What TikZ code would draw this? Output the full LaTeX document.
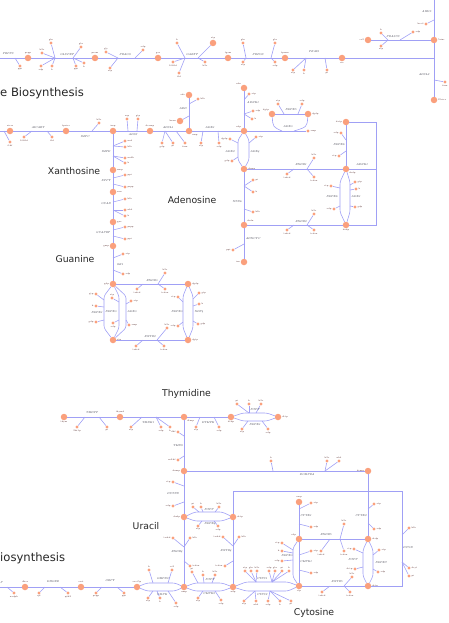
\documentclass[tikz,border=0pt]{standalone}
\usepackage{fontspec}
\newfontfamily\sectfont{DejaVu Sans}
\definecolor{eblue}{RGB}{160,160,245}
\definecolor{salm}{RGB}{250,160,125}
\definecolor{mtxt}{RGB}{90,50,50}
\definecolor{rtxt}{RGB}{40,40,55}
\tikzset{
 edge/.style={draw=eblue, line width=0.9pt},
 br/.style={draw=eblue, line width=0.6pt},
 bendline/.style={draw=eblue, line width=0.6pt, rounded corners=2.5pt},
 big/.style={circle, fill=salm, minimum size=6.5pt, inner sep=0pt},
 sml/.style={circle, fill=salm, minimum size=3.4pt, inner sep=0pt},
 mlab/.style={font=\fontsize{2.2}{2.4}\selectfont, text=mtxt, inner sep=0.4pt},
 rlab/.style={font=\fontsize{2.8}{3}\selectfont\itshape, text=rtxt, inner sep=0pt},
 sect/.style={font=\sectfont\fontsize{9.3}{11}\selectfont, text=black!85, anchor=base, inner sep=0pt},
 bigsect/.style={font=\sectfont\fontsize{11.6}{13}\selectfont, text=black!85, anchor=base west, inner sep=0pt},
}
\newcommand\Met[4]{\node[big,label={[mlab]#4:#3}] (#1) at (#2) {};}
\newcommand\Sm[5]{\node[sml,label={[mlab]#5:#4}] (#1) at (#2) {}; \draw[br] (#1) -- (#3);}
\newcommand\Rx[3]{\node[rlab] (#1) at (#2) {#3};}
\begin{document}
\begin{tikzpicture}[x=1pt,y=-1pt]
\useasboundingbox (0,0) rectangle (449,623);
\clip (0,0) rectangle (449,623);
% ================= TOP ROW =================
\coordinate (L0) at (0,58);
\coordinate (T58) at (434,58);
\coordinate (T0) at (434,0);
\Met{m1}{28,58}{prpp}{above}
\Met{m2}{95,58}{pram}{above}
\Met{m3}{158,58}{gar}{above}
\Met{m4}{228,58}{fgam}{above}
\Met{m5}{285,58}{fpram}{above}
\Met{m6}{342,58}{air}{below}
\Met{m7}{434,40}{5aizc}{right}
\Met{m8}{368,40}{co2}{left}
\Met{m9}{434,100}{25aics}{right}
\Met{m10}{213,43}{atp}{above}
\draw[edge] (L0) -- (m1);
\draw[edge] (m1) -- (m2);
\draw[edge] (m2) -- (m3);
\draw[edge] (m3) -- (m4);
\draw[edge] (m4) -- (m5);
\draw[edge] (m5) -- (m6);
\draw[edge] (m6) -- (T58);
\draw[edge] (T0) -- (m7);
\draw[edge] (m7) -- (m9);
\draw[edge] (m8) -- (m7);
\coordinate (j1) at (15,58);
\coordinate (j2a) at (55,58); \coordinate (j2b) at (73,58);
\coordinate (j3a) at (118,58); \coordinate (j3b) at (135,58);
\coordinate (j4a) at (185,58); \coordinate (j4b) at (198,58);
\coordinate (j5a) at (246,58); \coordinate (j5b) at (271,58);
\coordinate (j6a) at (306,58); \coordinate (j6b) at (325,58);
\coordinate (j7) at (434,20); \coordinate (j8) at (434,80);
\coordinate (j9a) at (388,40); \coordinate (j9b) at (400,40);
\Sm{s1}{20,66}{j1}{ppi}{below}
\Sm{s2}{51,43}{j2a}{gln}{above}
\Sm{s3}{42,53}{j2a}{h2o}{above}
\Sm{s4}{41,66}{j2a}{adp}{below}
\Sm{s5}{52,66}{j2a}{h}{below}
\Sm{s6}{81,47}{j2b}{glu}{above}
\Sm{s7}{76,66}{j2b}{ppi}{below}
\Sm{s8}{84,63}{j2b}{h}{below}
\Sm{s9}{106,52}{j3a}{gly}{above}
\Sm{s10}{110,68}{j3a}{atp}{below}
\Sm{s11}{143,50}{j3b}{adp}{above}
\Sm{s12}{177,43}{j4a}{h}{above}
\Sm{s13}{173,62}{j4a}{10fthf}{below}
\Sm{s14}{179,73}{j4a}{thf}{below}
\draw[br] (m10) -- (j4b);
\Sm{s15}{205,62}{j4b}{h2o}{below}
\Sm{s16}{243,43}{j5a}{gln}{above}
\Sm{s17}{243,62}{j5a}{atp}{below}
\Sm{s18}{275,43}{j5b}{glu}{above}
\Sm{s19}{275,62}{j5b}{adp}{below}
\Sm{s20}{293,70}{j6a}{atp}{below}
\Sm{s21}{304,70}{j6a}{h}{below}
\Sm{s22}{327,70}{j6b}{pi}{below}
\Sm{s23}{426,24}{j7}{hco3}{left}
\Sm{s24}{445,82}{j8}{fum}{below}
\Sm{s25}{381,33}{j9a}{h}{above}
\Sm{s26}{381,46}{j9a}{atp}{below}
\Sm{s27}{413,32}{j9b}{adp}{right}
\Rx{r1}{8,54}{PRPPS}
\Rx{r2}{67,55}{GLUPRT}
\Rx{r3}{125,55}{PRAGS}
\Rx{r4}{192,55}{GARFT}
\Rx{r5}{258,55}{PRFGS}
\Rx{r6}{314,52}{PRAIS}
\Rx{r7}{427,12}{AIRCr}
\Rx{r8}{424,75}{ADSL2}
\Rx{r9}{393,37}{PRASCS}
\node[bigsect] (tpur) at (0,96.5) {e Biosynthesis};
% ================= MIDDLE ROW =================
\coordinate (L1) at (0,131);
\Met{n1}{10,131}{aicar}{above}
\Met{n2}{66,131}{fprica}{above}
\Met{n3}{113,131}{imp}{above}
\Met{n4}{150,131}{dcamp}{above}
\Met{n5}{189,131}{amp}{below right}
\Met{n6}{244,131}{adp}{above left}
\node[sml,label={[mlab]right:amp}] (s40) at (308,131) {};
\draw[edge] (L1) -- (n1);
\draw[edge] (n1) -- (n2);
\draw[edge] (n2) -- (n3);
\draw[edge] (n3) -- (n4);
\draw[edge] (n4) -- (n5);
\draw[edge] (n5) -- (n6);
\draw[edge] (n6) -- (s40);
\coordinate (j10o) at (4,131);
\coordinate (j10a) at (32,131); \coordinate (j10b) at (47,131);
\coordinate (j11) at (92,131);
\coordinate (j12a) at (128,131); \coordinate (j12b) at (137,131);
\coordinate (j13a) at (165,131); \coordinate (j13b) at (176,131);
\coordinate (j14a) at (203,131); \coordinate (j14b) at (218,131);
\Sm{s30}{10,142}{j10o}{fthf}{below}
\Sm{s31}{24,137}{j10a}{10fthf}{below}
\Sm{s32}{52,137}{j10b}{thf}{below}
\Sm{s33}{99,123}{j11}{h2o}{above}
\Sm{s34}{127,119}{j12a}{asp}{above}
\Sm{s35}{138,119}{j12b}{gtp}{above}
\Sm{s36}{162,143}{j13a}{gdp}{below}
\Sm{s37}{173,143}{j13a}{pi}{below}
\Sm{s38}{185,143}{j13b}{fum}{below}
\Sm{s39}{201,143}{j14a}{atp}{below}
\Sm{s41}{219,143}{j14b}{adp}{below}
\Met{p1}{189,95}{ade}{left}
\draw[edge] (p1) -- (n5);
\coordinate (j15a) at (189,104); \coordinate (j15b) at (189,116);
\Sm{s42}{198,99}{j15a}{h2o}{right}
\Met{p2}{180,121}{hxan}{left}
\draw[br] (p2) -- (j15b);
\Rx{r15}{183,109}{ADD}
\Rx{r10}{38,128}{AICART}
\Rx{r11}{85,137}{IMPC}
\Rx{r12}{133,135}{ADSS}
\Rx{r13}{168,128}{ADSL1}
\Rx{r14}{210,128}{ADK1}
% ================= ADENOSINE =================
\Met{a0}{244,88}{adn}{above left}
\Met{a1}{346,122}{datp}{left}
\Met{a2}{244,169}{damp}{right}
\Met{a3}{346,169}{dadp}{below right}
\Met{a4}{244,225}{dadn}{above right}
\Met{a5}{346,225}{dadp}{below}
\Met{a6}{244,262}{ins}{left}
\Met{e1}{272,114}{dgtp}{above left}
\Met{e2}{308,114}{dgdp}{right}
\coordinate (q1) at (376,122); \coordinate (q2) at (376,169); \coordinate (q3) at (376,225);
\draw[edge] (a0) -- (n6);
\draw[edge] (a2) -- (a4);
\draw[edge] (a4) -- (a6);
\draw[edge] (a2) -- (a3);
\draw[edge] (a4) -- (a5);
\draw[edge] (a1) -- (a3);
\draw[edge] (a1) -- (q1) -- (q3) -- (a5);
\draw[edge] (q2) -- (a3);
\draw[bendline] (n6) -- (238,140) -- (238,160) -- (a2);
\draw[bendline] (n6) -- (249,140) -- (249,160) -- (a2);
\coordinate (jA) at (282,131); \coordinate (jB) at (294,131);
\draw[br] (e1) .. controls (273,127) .. (jA);
\draw[br] (e2) .. controls (307,127) .. (jB);
\draw[br] (e1) -- (e2);
\coordinate (jn1) at (284,114); \coordinate (jn2) at (298,114);
\Sm{s43}{278,104}{jn1}{atp}{above}
\Sm{s44}{302,104}{jn2}{adp}{above}
\Rx{ra1}{288,127}{ADK3}
\Rx{ra2}{291,110}{NDPK5}
\coordinate (ja0a) at (244,100); \coordinate (ja0b) at (244,114);
\Sm{s50}{249,94}{ja0a}{atp}{right}
\Sm{s51}{253,111}{ja0b}{adp}{right}
\Sm{s52}{252,119}{ja0b}{h}{right}
\Rx{ra0}{253,103}{ADNK1}
\coordinate (jad1) at (238,143); \coordinate (jad2) at (238,157); \coordinate (jad3) at (249,143);
\Sm{s53}{230,139}{jad1}{dgdp}{left}
\Sm{s54}{232,161}{jad2}{gdp}{left}
\Sm{s55}{256,137}{jad3}{atp}{right}
\Rx{ra3}{230,152}{ADK2}
\Rx{ra4}{255,152}{ADK4}
\coordinate (jc1) at (294,169); \coordinate (jc2) at (307,169);
\Sm{s56}{287,174}{jc1}{trdrd}{below}
\Sm{s57}{314,158}{jc2}{h2o}{above}
\Sm{s58}{314,177}{jc2}{trdox}{below}
\Rx{ra5}{301,165}{RNDR1}
\coordinate (jd1) at (346,140); \coordinate (jd2) at (346,151);
\Sm{s59}{341,133}{jd1}{adp}{left}
\Sm{s60}{339,156}{jd2}{atp}{left}
\Rx{ra6}{339,145}{NDPK8}
\Rx{ra7}{362,165}{ADNK1}
\coordinate (je1) at (244,186); \coordinate (je2) at (244,209);
\Sm{s61}{253,180}{je1}{pi}{right}
\Sm{s62}{253,192}{je1}{h}{right}
\Sm{s63}{253,212}{je2}{h2o}{right}
\Rx{ra8}{237,202}{NTD6}
\coordinate (jf1) at (294,225); \coordinate (jf2) at (307,225);
\Sm{s64}{287,230}{jf1}{trdrd}{below}
\Sm{s65}{314,214}{jf2}{h2o}{above}
\Sm{s66}{314,230}{jf2}{trdox}{below}
\Rx{ra9}{301,222}{RNDR2}
\coordinate (jg) at (244,244);
\Sm{s67}{233,250}{jg}{ppi}{left}
\Rx{ra10}{253,239}{ADNCYC}
\draw[bendline] (a3) -- (340,182) -- (340,212) -- (a5);
\draw[bendline] (a3) -- (350,182) -- (350,212) -- (a5);
\coordinate (jh1) at (340,188); \coordinate (jh2) at (340,206);
\coordinate (ji1) at (350,185); \coordinate (ji2) at (350,190); \coordinate (ji3) at (350,206);
\Sm{s68}{331,186}{jh1}{atp}{left}
\Sm{s69}{334,209}{jh2}{adp}{left}
\Sm{s70}{355,182}{ji1}{gtp}{right}
\Sm{s71}{356,189}{ji2}{h}{right}
\Sm{s72}{355,207}{ji3}{gdp}{right}
\Rx{ra11}{332,197}{NDPK8}
\Rx{ra12}{356,197}{ADK1}
% ================= GUANINE =================
\Met{x1}{113,170}{xmp}{right}
\Met{x2}{113,192}{xan}{right}
\Met{x3}{113,222}{gua}{right}
\Met{x4}{113,246}{gmp}{left}
\Met{g1}{113,284}{gdp}{left}
\Met{g2}{188,284}{dgdp}{right}
\Met{g3}{113,340}{gtp}{right}
\Met{g4}{188,340}{dgtp}{right}
\draw[edge] (n3) -- (x1);
\draw[edge] (x1) -- (x2);
\draw[edge] (x2) -- (x3);
\draw[edge] (x3) -- (x4);
\draw[edge] (x4) -- (g1);
\coordinate (jk1) at (113,146); \coordinate (jk2) at (113,156);
\Sm{s80}{125,141}{jk1}{nad}{right}
\Sm{s81}{125,147}{jk1}{h2o}{right}
\Sm{s82}{125,158}{jk2}{nadh}{right}
\Sm{s83}{125,163}{jk2}{h}{right}
\Rx{rg1}{106,152}{IMPD}
\coordinate (jl1) at (113,178); \coordinate (jl2) at (113,184);
\Sm{s84}{125,175}{jl1}{ppi}{right}
\Sm{s85}{125,187}{jl2}{prpp}{right}
\Rx{rg2}{106,181}{XPPT}
\coordinate (jm1) at (113,202); \coordinate (jm2) at (113,210);
\Sm{s86}{125,199}{jm1}{h2o}{right}
\Sm{s87}{125,210}{jm2}{nh4}{right}
\Sm{s88}{125,216}{jm2}{h}{right}
\Rx{rg3}{106,204}{GUAD}
\coordinate (jn3) at (113,230); \coordinate (jn4) at (113,236);
\Sm{s89}{125,227}{jn3}{prpp}{right}
\Sm{s90}{125,239}{jn4}{ppi}{right}
\Rx{rg4}{103,233}{GUAPRT}
\coordinate (jo1) at (113,258); \coordinate (jo2) at (113,270);
\Sm{s91}{123,254}{jo1}{atp}{right}
\Sm{s92}{123,274}{jo2}{adp}{right}
\Rx{rg5}{120,265}{GK1}
\draw[edge] (g1) -- (g2);
\draw[edge] (g3) -- (g4);
\coordinate (jp1) at (143,284); \coordinate (jp2) at (158,284);
\Sm{s93}{137,289}{jp1}{trdrd}{below}
\Sm{s94}{165,273}{jp2}{h2o}{above}
\Sm{s95}{165,289}{jp2}{trdox}{below}
\Rx{rg6}{152,281}{RNDR3}
\coordinate (jq1) at (143,340); \coordinate (jq2) at (157,340);
\Sm{s96}{136,346}{jq1}{trdrd}{below}
\Sm{s97}{167,328}{jq2}{h2o}{above}
\Sm{s98}{164,346}{jq2}{trdox}{below}
\Rx{rg7}{150,337}{RNTR2}
\draw[bendline] (g1) -- (104,296) -- (104,328) -- (g3);
\draw[bendline] (g1) -- (119,296) -- (119,328) -- (g3);
\draw[bendline] (g1) -- (126,296) -- (126,328) -- (g3);
\coordinate (jr1) at (104,300); \coordinate (jr2) at (104,307); \coordinate (jr3) at (104,320);
\coordinate (jr4) at (119,302); \coordinate (jr5) at (119,320);
\coordinate (jr6) at (126,304); \coordinate (jr7) at (126,320);
\Sm{s99}{96,294}{jr1}{gtp}{left}
\Sm{s100}{96,306}{jr2}{h}{left}
\Sm{s101}{96,322}{jr3}{gdp}{left}
\Sm{s102}{112,298}{jr4}{atp}{above}
\Sm{s103}{113,323}{jr5}{adp}{below}
\Sm{s104}{131,301}{jr6}{atp}{right}
\Sm{s105}{129,325}{jr7}{amp}{right}
\Rx{rg8}{97,313}{NDPK1}
\Rx{rg9}{111,312}{NDPK3}
\Rx{rg10}{132,312}{ADK3}
\draw[bendline] (g2) -- (183,296) -- (183,328) -- (g4);
\draw[bendline] (g2) -- (193,296) -- (193,328) -- (g4);
\coordinate (js1) at (183,302); \coordinate (js2) at (183,322);
\coordinate (js3) at (193,299); \coordinate (js4) at (193,306); \coordinate (js5) at (193,321);
\Sm{s106}{178,297}{js1}{atp}{left}
\Sm{s107}{178,326}{js2}{adp}{left}
\Sm{s108}{199,293}{js3}{gtp}{right}
\Sm{s109}{199,304}{js4}{h}{right}
\Sm{s110}{198,324}{js5}{gdp}{right}
\Rx{rg11}{177,312}{NDPK3}
\Rx{rg12}{199,312}{NDP4}
\node[sect] (tx) at (74,174) {Xanthosine};
\node[sect] (ta) at (192,203) {Adenosine};
\node[sect] (tg) at (75,262) {Guanine};
% ================= PYRIMIDINE =================
\Met{t1}{64,417}{thym}{below}
\Met{t2}{120,417}{thymd}{above}
\Met{t3}{184,417}{dtmp}{below right}
\Met{t4}{231,417}{dtdp}{below}
\Met{t5}{278,417}{dttp}{right}
\draw[edge] (t1) -- (t2);
\draw[edge] (t2) -- (t3);
\draw[edge] (t3) -- (t4);
\coordinate (jt1a) at (85,417); \coordinate (jt1b) at (99,417);
\Sm{s120}{77,427}{jt1a}{2dr1p}{below}
\Sm{s121}{107,427}{jt1b}{pi}{below}
\Rx{rt1}{92,413}{TMDPP}
\coordinate (jt2a) at (142,417); \coordinate (jt2b) at (156,417);
\Sm{s122}{131,427}{jt2a}{atp}{below}
\Sm{s123}{161,427}{jt2b}{adp}{below}
\Sm{s124}{170,427}{jt2b}{h}{below}
\Rx{rt2}{148,423}{TMDK1}
\coordinate (jt3a) at (200,417); \coordinate (jt3b) at (214,417);
\Sm{s125}{196,427}{jt3a}{atp}{below}
\Sm{s126}{219,427}{jt3b}{adp}{below}
\Rx{rt3}{208,423}{DTMPK}
\draw[bendline] (t4) -- (243,413) -- (267,413) -- (t5);
\draw[bendline] (t4) -- (243,421) -- (267,421) -- (t5);
\coordinate (ju1) at (249,413); \coordinate (ju2) at (256,413);
\coordinate (ju3) at (248,421); \coordinate (ju4) at (262,421);
\Sm{s127}{237,404}{ju1}{pi}{above}
\Sm{s128}{249,404}{ju1}{h}{above}
\Sm{s129}{261,404}{ju2}{h2o}{above}
\Sm{s130}{242,429}{ju3}{atp}{below}
\Sm{s131}{268,429}{ju4}{adp}{below}
\Rx{rt4}{255,409.5}{NTPP}
\Rx{rt5}{255,424.5}{NDPK1}
\node[sect] (tt) at (186.5,396) {Thymidine};
\Met{u1}{184,471}{dump}{left}
\Met{u2}{184,517}{dudp}{left}
\Met{u3}{233,517}{dctp}{right}
\Met{b1}{25,587}{dhor}{above}
\Met{b2}{81,587}{orot}{above}
\Met{b3}{137,587}{orot5p}{above}
\Met{b4}{184,587}{ump}{below}
\Met{c1}{368,471}{dcmp}{left}
\Met{c2}{233,587}{udp}{below}
\Met{c3}{299,586}{ctp}{below}
\Met{c4}{368,586}{dctp}{right}
\Met{c5}{299,539}{cdp}{above left}
\Met{c6}{299,502}{cmp}{above}
\Met{c7}{368,539}{dcdp}{right}
\coordinate (w1) at (233,491); \coordinate (w2) at (402,491); \coordinate (w3) at (402,586);
\coordinate (L3) at (0,587);
\draw[edge] (t3) -- (u1);
\draw[edge] (u1) -- (u2);
\draw[edge] (u2) -- (b4);
\draw[edge] (u1) -- (c1);
\draw[edge] (c1) -- (c7);
\draw[edge] (w1) -- (w2) -- (w3) -- (c4);
\draw[edge] (w1) -- (u3);
\draw[edge] (u3) -- (c2);
\draw[edge] (c6) -- (c5);
\draw[edge] (c5) -- (c7);
\draw[edge] (c3) -- (c4);
\draw[edge] (L3) -- (b1);
\draw[edge] (b1) -- (b2);
\draw[edge] (b2) -- (b3);
\coordinate (jv1) at (184,436); \coordinate (jv2) at (184,456);
\Sm{s140}{178,432}{jv1}{dhf}{left}
\Sm{s141}{178,460}{jv2}{mlthf}{left}
\Rx{ru1}{178,446}{TMDS}
\coordinate (jw1) at (273,471); \coordinate (jw2) at (325,471);
\Sm{s142}{271,461}{jw1}{h}{above}
\Sm{s143}{327,461}{jw2}{h2o}{above}
\Sm{s144}{339,461}{jw2}{nh4}{above}
\Rx{ru2}{307,475}{DCMPDA}
\coordinate (jx1) at (184,486); \coordinate (jx2) at (184,502);
\Sm{s145}{173,482}{jx1}{atp}{left}
\Sm{s146}{173,506}{jx2}{adp}{left}
\Rx{ru3}{173,494}{DUTPD}
\draw[bendline] (u2) -- (195,512) -- (222,512) -- (u3);
\draw[bendline] (u2) -- (195,521) -- (222,521) -- (u3);
\coordinate (jx3) at (199,512); \coordinate (jx4) at (203,512); \coordinate (jx5) at (215,512);
\coordinate (jx6) at (202,521); \coordinate (jx7) at (214,521);
\Sm{s147}{193,507}{jx3}{pi}{above}
\Sm{s148}{201,507}{jx4}{h}{above}
\Sm{s149}{219,507}{jx5}{h2o}{above}
\Sm{s150}{198,526}{jx6}{atp}{below}
\Sm{s151}{218,526}{jx7}{adp}{below}
\Rx{ru4}{209,509.5}{NTPP}
\Rx{ru5}{210,524}{NDPK4}
\coordinate (jy1) at (184,547); \coordinate (jy2) at (184,561);
\Sm{s152}{173,538}{jy1}{trdrd}{left}
\Sm{s153}{190,538}{jy1}{h2o}{right}
\Sm{s154}{190,566}{jy2}{trdox}{right}
\Rx{ru6}{177,552}{RNDR4}
\coordinate (jz1) at (233,546); \coordinate (jz2) at (233,561);
\Sm{s155}{223,537}{jz1}{trdrd}{left}
\Sm{s156}{239,537}{jz1}{h2o}{right}
\Sm{s157}{225,566}{jz2}{trdox}{left}
\Rx{ru7}{226,551}{RNTR4}
\coordinate (jb0) at (7,587);
\Sm{s160}{14,593}{jb0}{nadph}{below}
\node[rlab, anchor=west] (rb0) at (0.3,583) {P};
\coordinate (jb1a) at (45,587); \coordinate (jb1b) at (60,587);
\Sm{s161}{39,593}{jb1a}{q8}{below}
\Sm{s162}{68,593}{jb1b}{q8h2}{below}
\Rx{rb1}{53,582}{DHORD}
\coordinate (jb2a) at (102,587); \coordinate (jb2b) at (117,587);
\Sm{s163}{96,593}{jb2a}{prpp}{below}
\Sm{s164}{124,593}{jb2b}{ppi}{below}
\Rx{rb2}{110,581}{ORPT}
\draw[bendline] (b3) -- (147,583) -- (175,583) -- (b4);
\draw[bendline] (b3) -- (147,591) -- (175,591) -- (b4);
\coordinate (jb3a) at (153,583); \coordinate (jb3b) at (168,583);
\coordinate (jb3c) at (153,591); \coordinate (jb3d) at (157,591); \coordinate (jb3e) at (168,591);
\Sm{s165}{149,570}{jb3a}{h}{above}
\Sm{s166}{172,570}{jb3b}{co2}{above}
\Sm{s167}{148,598}{jb3c}{atp}{below}
\Sm{s168}{160,598}{jb3d}{h}{below}
\Sm{s169}{176,603}{jb3e}{adp}{below}
\Rx{rb3}{163,579}{OMPDC}
\Rx{rb4}{162,595}{UMPK}
\draw[bendline] (b4) -- (195,583) -- (222,583) -- (c2);
\draw[bendline] (b4) -- (195,591) -- (222,591) -- (c2);
\coordinate (jb4a) at (198,583); \coordinate (jb4b) at (204,583); \coordinate (jb4c) at (212,583);
\coordinate (jb4d) at (203,591); \coordinate (jb4e) at (215,591);
\Sm{s170}{192,572}{jb4a}{pi}{above}
\Sm{s171}{203,575}{jb4b}{h}{above}
\Sm{s172}{215,575}{jb4c}{h2o}{above}
\Sm{s173}{198,598}{jb4d}{atp}{below}
\Sm{s174}{221,600}{jb4e}{adp}{below}
\Rx{rb5}{210,580}{NTPP}
\Rx{rb6}{209,594}{UMPK2}
\draw[bendline] (c2) -- (246,582) -- (288,582) -- (c3);
\draw[bendline] (c2) -- (246,591) -- (288,591) -- (c3);
\coordinate (jc2a) at (256,582); \coordinate (jc2b) at (272,582);
\coordinate (jc2c) at (255,591); \coordinate (jc2d) at (270,591);
\Sm{s175}{245,571}{jc2a}{atp}{above}
\Sm{s176}{251,571}{jc2a}{gln}{above}
\Sm{s177}{257,571}{jc2a}{h2o}{above}
\Sm{s178}{269,571}{jc2b}{adp}{above}
\Sm{s179}{275,571}{jc2b}{glu}{above}
\Sm{s17a}{282,571}{jc2b}{pi}{above}
\Sm{s17b}{289,571}{jc2b}{h}{above}
\Sm{s17c}{244,601}{jc2c}{atp}{below}
\Sm{s17d}{256,601}{jc2c}{nh4}{below}
\Sm{s17e}{268,601}{jc2d}{adp}{below}
\Sm{s17f}{280,601}{jc2d}{h}{below}
\Sm{s17g}{291,601}{jc2d}{pi}{below}
\Rx{rb7}{262,578.5}{CTPS1}
\Rx{rb8}{262,594.5}{CTPS2}
\coordinate (jc6a) at (299,509); \coordinate (jc6b) at (299,524);
\Sm{s180}{311,503}{jc6a}{atp}{right}
\Sm{s181}{311,527}{jc6b}{adp}{right}
\Rx{rc1}{306,516}{CYTK1}
\coordinate (jc7a) at (330,539); \coordinate (jc7b) at (340,539);
\Sm{s182}{321,551}{jc7a}{trdrd}{below}
\Sm{s183}{344,524}{jc7b}{h2o}{above}
\Sm{s184}{344,551}{jc7b}{trdox}{below}
\Rx{rc2}{326,535}{RNDR5}
\coordinate (jc8a) at (368,509); \coordinate (jc8b) at (368,523);
\Sm{s185}{374,504}{jc8a}{atp}{right}
\Sm{s186}{374,529}{jc8b}{adp}{right}
\Rx{rc3}{361,516}{CYTK2}
\draw[bendline] (c5) -- (293,548) -- (293,577) -- (c3);
\draw[br] (c5) -- (c3);
\coordinate (jc5a) at (293,550); \coordinate (jc5b) at (293,553); \coordinate (jc5c) at (293,560);
\coordinate (jc5d) at (299,555); \coordinate (jc5e) at (299,570);
\Sm{s187}{282,543}{jc5a}{atp}{left}
\Sm{s188}{282,551}{jc5b}{h}{left}
\Sm{s189}{282,561}{jc5c}{adp}{left}
\Sm{s190}{311,551}{jc5d}{atp}{right}
\Sm{s191}{311,573}{jc5e}{adp}{right}
\Rx{rc4}{287,556}{NDPK3}
\Rx{rc5}{306,562}{CMPK1}
\draw[bendline] (c7) -- (363,550) -- (363,576) -- (c4);
\draw[bendline] (c7) -- (373,550) -- (373,576) -- (c4);
\coordinate (jc9a) at (363,553); \coordinate (jc9b) at (363,567);
\coordinate (jc9c) at (373,555); \coordinate (jc9d) at (373,569);
\Sm{s192}{354,549}{jc9a}{ctp}{left}
\Sm{s194}{355,569}{jc9b}{dctp}{left}
\Sm{s195}{379,550}{jc9c}{atp}{right}
\Sm{s196}{378,572}{jc9d}{adp}{right}
\Rx{rc6}{353,560}{NTPP}
\Rx{rc7}{381,563}{NDPK7}
\coordinate (jca) at (330,586); \coordinate (jcb) at (344,586);
\Sm{s197}{322,592}{jca}{trdrd}{below}
\Sm{s198}{352,577}{jcb}{h2o}{above}
\Sm{s199}{350,592}{jcb}{trdox}{below}
\Rx{rc8}{337,582}{RNTR5}
\coordinate (jdc1) at (402,535); \coordinate (jdc2) at (402,562);
\Sm{s200}{409,528}{jdc1}{h2o}{right}
\Sm{s201}{409,568}{jdc2}{dcyt}{right}
\Sm{s202}{409,576}{jdc2}{pi}{right}
\Rx{rc9}{408,548}{DCYD}
\node[sect] (tu) at (146,529) {Uracil};
\node[sect] (tc) at (314,615) {Cytosine};
\node[bigsect] (tpy) at (0,561) {iosynthesis};
\end{tikzpicture}
\end{document}
